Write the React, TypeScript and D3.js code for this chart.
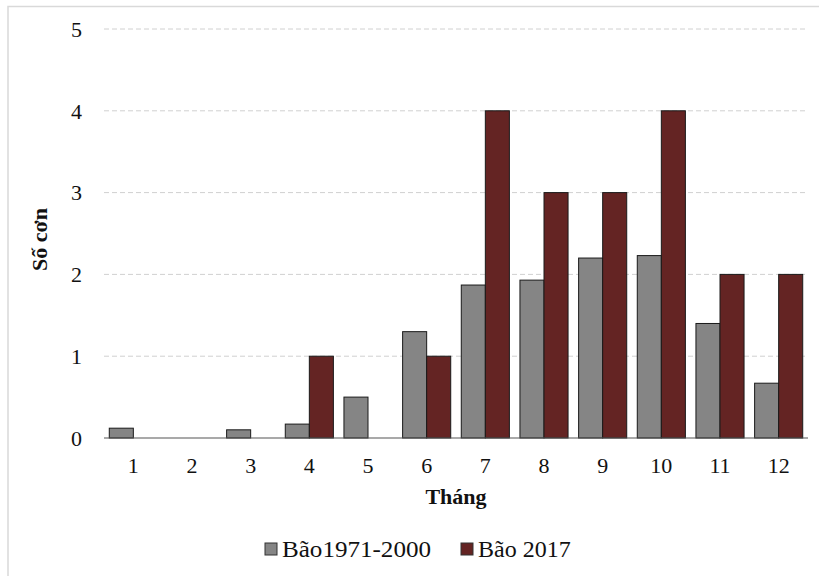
import React from "react";
import * as d3 from "d3";

const months = ["1", "2", "3", "4", "5", "6", "7", "8", "9", "10", "11", "12"];
const bao19712000 = [0.12, 0, 0.1, 0.17, 0.5, 1.3, 1.87, 1.93, 2.2, 2.23, 1.4, 0.67];
const bao2017 = [0, 0, 0, 1, 0, 1, 4, 3, 3, 4, 2, 2];
const yTicks = [0, 1, 2, 3, 4, 5];
const seriesNames = ["Bão1971-2000", "Bão 2017"];
const colors = ["#858585", "#642423"];

export default function App() {
  const W = 819, H = 576;
  const left = 104, right = 808, top = 29, bottom = 438;
  const x = d3.scaleBand<string>().domain(months).range([left, right]).paddingInner(0.18).paddingOuter(0.09);
  const x1 = d3.scaleBand<number>().domain([0, 1]).range([0, x.bandwidth()]);
  const y = d3.scaleLinear().domain([0, 5]).range([bottom, top]);
  const font = "Liberation Serif";
  const series = [bao19712000, bao2017];
  return (
    <svg width={W} height={H} style={{ position: "absolute", left: 0, top: 0, fontFamily: font }}>
      <rect x={0} y={0} width={W} height={H} fill="#fff" />
      <rect x={8} y={6.5} width={830} height={600} fill="none" stroke="#d9d9d9" strokeWidth={1.5} />
      {yTicks.map((t) => (
        <g key={t}>
          {t > 0 && (
            <line x1={left} x2={right} y1={y(t)} y2={y(t)} stroke="#d0d0d0" strokeWidth={1} strokeDasharray="5,3" />
          )}
          <text x={82} y={y(t)} dy="0.35em" textAnchor="end" fontSize={22} fill="#111" style={{ fontFamily: font }}>{t}</text>
        </g>
      ))}
      {months.map((m, i) => (
        <g key={m}>
          {series.map((s, k) => {
            const v = s[i];
            if (v <= 0) return null;
            return (
              <rect
                key={k}
                x={(x(m) as number) + (x1(k) as number)}
                y={y(v)}
                width={x1.bandwidth()}
                height={y(0) - y(v)}
                fill={colors[k]}
                stroke="#1a1a1a"
                strokeWidth={1}
              />
            );
          })}
          <text x={(x(m) as number) + x.bandwidth() / 2} y={473} textAnchor="middle" fontSize={22} fill="#111" style={{ fontFamily: font }}>{m}</text>
        </g>
      ))}
      <line x1={left} x2={right} y1={bottom} y2={bottom} stroke="#555" strokeWidth={1.2} />
      <text x={456} y={504} textAnchor="middle" fontSize={22} fontWeight="bold" fill="#111" style={{ fontFamily: font }}>Tháng</text>
      <text transform={`translate(47, ${(top + bottom) / 2 + 6}) rotate(-90)`} textAnchor="middle" fontSize={22} fontWeight="bold" fill="#111" style={{ fontFamily: font }}>Số cơn</text>
      <g>
        <rect x={265} y={543} width={12} height={12} fill={colors[0]} stroke="#333" strokeWidth={1} />
        <text x={282} y={557} fontSize={24} fill="#111" style={{ fontFamily: font }} textLength={149} lengthAdjust="spacingAndGlyphs">{seriesNames[0]}</text>
        <rect x={461} y={543} width={12} height={12} fill={colors[1]} stroke="#333" strokeWidth={1} />
        <text x={478} y={557} fontSize={24} fill="#111" style={{ fontFamily: font }}>{seriesNames[1]}</text>
      </g>
    </svg>
  );
}
